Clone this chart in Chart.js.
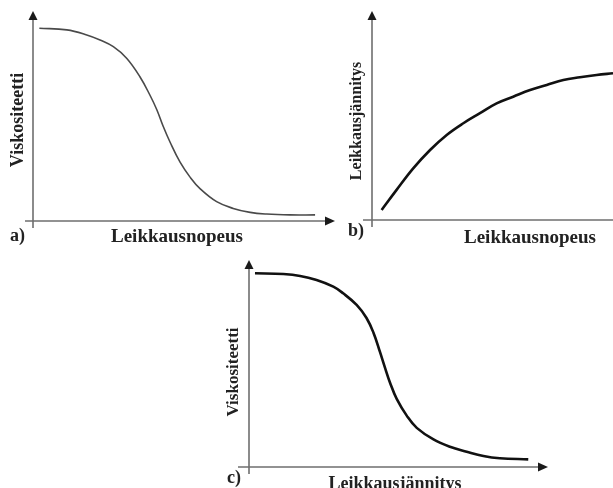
<!DOCTYPE html>
<html>
<head>
<meta charset="utf-8">
<script src="https://cdn.jsdelivr.net/npm/chart.js@4/dist/chart.umd.min.js"></script>
<style>
  html, body { margin: 0; padding: 0; background: #fff; }
  body { width: 613px; height: 488px; position: relative; overflow: hidden; }
  .panel { position: absolute; }
</style>
</head>
<body>
<div class="panel" id="pa" style="left:0;top:0;width:340px;height:250px;"><canvas id="ca"></canvas></div>
<div class="panel" id="pb" style="left:340px;top:0;width:273px;height:250px;"><canvas id="cb"></canvas></div>
<div class="panel" id="pc" style="left:200px;top:250px;width:360px;height:238px;"><canvas id="cc"></canvas></div>
<script>
// ---- Data (qualitative curves; axes run 0..10) ----
// a) Viskositeetti vs Leikkausnopeus
const aShearRate = [0.21, 1.12, 1.78, 2.22, 2.66, 3.10, 3.54, 3.87, 4.10, 4.31, 4.54, 4.87, 5.20, 5.53, 6.08, 6.63, 7.19, 7.74, 8.51, 9.34];
const aViscosity = [9.18, 9.10, 8.86, 8.62, 8.30, 7.75, 6.87, 6.00, 5.30, 4.51, 3.75, 2.80, 2.09, 1.54, 0.92, 0.60, 0.41, 0.33, 0.29, 0.29];
// b) Leikkausjännitys vs Leikkausnopeus
const bShearRate = [0.40, 1.02, 1.71, 2.41, 3.10, 3.79, 4.48, 5.17, 5.86, 6.56, 7.25, 7.94, 8.63, 9.32, 10.0];
const bShearStress = [0.48, 1.44, 2.47, 3.35, 4.07, 4.63, 5.11, 5.58, 5.90, 6.22, 6.46, 6.70, 6.83, 6.94, 7.02];
// c) Viskositeetti vs Leikkausjännitys
const cShearStress = [0.20, 1.15, 1.71, 2.26, 2.82, 3.15, 3.60, 3.93, 4.16, 4.38, 4.55, 4.72, 4.94, 5.28, 5.61, 6.17, 6.72, 7.28, 7.84, 8.39, 9.34];
const cViscosity = [9.36, 9.32, 9.23, 9.03, 8.71, 8.39, 7.83, 7.20, 6.50, 5.56, 4.79, 4.06, 3.29, 2.47, 1.89, 1.33, 0.98, 0.74, 0.53, 0.42, 0.37];

// ---- Labels ----
const labelA = { panel: 'a)', x: 'Leikkausnopeus', y: 'Viskositeetti' };
const labelB = { panel: 'b)', x: 'Leikkausnopeus', y: 'Leikkausjännitys' };
const labelC = { panel: 'c)', x: 'Leikkausjännitys', y: 'Viskositeetti' };

const FONT = '"Liberation Serif", "Times New Roman", serif';

const axesPlugin = {
  id: 'sketchAxes',
  beforeDatasetsDraw(chart, args, o) {
    const ctx = chart.ctx;
    const xs = chart.scales.x, ys = chart.scales.y;
    const x0 = xs.getPixelForValue(0), x1 = xs.getPixelForValue(10);
    const y0 = ys.getPixelForValue(0), y1 = ys.getPixelForValue(10);
    ctx.save();
    ctx.strokeStyle = '#6e6e6e';
    ctx.lineWidth = 1.6;
    ctx.beginPath();
    ctx.moveTo(x0, y0 + o.yExtend);
    ctx.lineTo(x0, y1 + 6);
    ctx.stroke();
    ctx.beginPath();
    ctx.moveTo(x0 - o.xExtend, y0);
    ctx.lineTo(o.xArrow ? x1 - 6 : x1 + 2, y0);
    ctx.stroke();
    ctx.fillStyle = '#1a1a1a';
    ctx.beginPath();
    ctx.moveTo(x0, y1);
    ctx.lineTo(x0 - 4.5, y1 + 9);
    ctx.lineTo(x0 + 4.5, y1 + 9);
    ctx.closePath();
    ctx.fill();
    if (o.xArrow) {
      ctx.beginPath();
      ctx.moveTo(x1, y0);
      ctx.lineTo(x1 - 10, y0 - 4.5);
      ctx.lineTo(x1 - 10, y0 + 4.5);
      ctx.closePath();
      ctx.fill();
    }
    ctx.restore();
  },
  afterDraw(chart, args, o) {
    const ctx = chart.ctx;
    const L = o.labels;
    ctx.save();
    ctx.fillStyle = '#222';
    ctx.font = 'bold 18px ' + FONT;
    ctx.textAlign = 'left';
    ctx.textBaseline = 'alphabetic';
    ctx.fillText(L.panel, o.tagPos[0], o.tagPos[1]);
    ctx.font = 'bold ' + o.xSize + 'px ' + FONT;
    ctx.textAlign = 'center';
    ctx.fillText(L.x, o.xPos[0], o.xPos[1]);
    ctx.translate(o.yPos[0], o.yPos[1]);
    ctx.rotate(-Math.PI / 2);
    ctx.font = 'bold ' + o.ySize + 'px ' + FONT;
    ctx.textAlign = 'center';
    ctx.textBaseline = 'middle';
    ctx.fillText(L.y, 0, 0);
    ctx.restore();
  }
};

function makeChart(id, xsArr, ysArr, color, width, padding, pluginOpts) {
  return new Chart(document.getElementById(id), {
    type: 'line',
    data: {
      datasets: [{
        data: xsArr.map((x, i) => ({ x: x, y: ysArr[i] })),
        borderColor: color,
        borderWidth: width,
        pointRadius: 0,
        fill: false,
        tension: 0.4
      }]
    },
    options: {
      responsive: true,
      maintainAspectRatio: false,
      animation: false,
      layout: { padding: padding },
      plugins: { legend: { display: false }, tooltip: { enabled: false }, sketchAxes: pluginOpts },
      scales: {
        x: { type: 'linear', min: 0, max: 10, display: false },
        y: { type: 'linear', min: 0, max: 10, display: false }
      }
    },
    plugins: [axesPlugin]
  });
}

makeChart('ca', aShearRate, aViscosity, '#4a4a4a', 1.6,
  { left: 33, right: 5, top: 11, bottom: 29 },
  { labels: labelA, xArrow: true, xExtend: 8, yExtend: 7,
    tagPos: [10, 241], xPos: [177, 242], xSize: 19, yPos: [18, 120], ySize: 18 });

makeChart('cb', bShearRate, bShearStress, '#111111', 2.6,
  { left: 32, right: 0, top: 11, bottom: 30 },
  { labels: labelB, xArrow: false, xExtend: 9, yExtend: 7,
    tagPos: [8, 236], xPos: [190, 243], xSize: 19, yPos: [17, 121], ySize: 16 });

makeChart('cc', cShearStress, cViscosity, '#111111', 2.6,
  { left: 49, right: 12, top: 10, bottom: 21 },
  { labels: labelC, xArrow: true, xExtend: 11, yExtend: 7,
    tagPos: [27, 233], xPos: [195, 239], xSize: 18, yPos: [34, 122], ySize: 17 });
</script>
</body>
</html>
